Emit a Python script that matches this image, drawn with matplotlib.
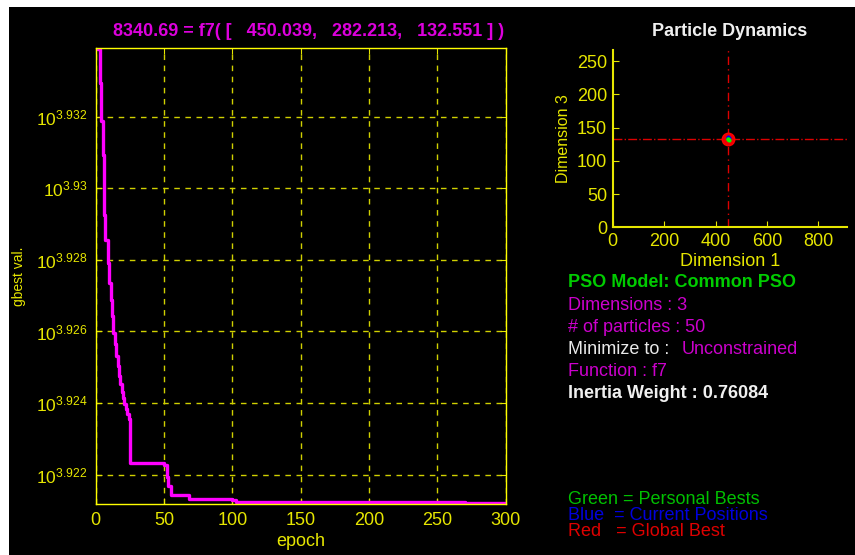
import numpy as np
import matplotlib
matplotlib.use("Agg")
import matplotlib.pyplot as plt
from matplotlib.patches import Rectangle
from matplotlib.ticker import FixedLocator, FixedFormatter

plt.rcParams['font.family'] = ['Liberation Sans', 'DejaVu Sans']
plt.rcParams['mathtext.fontset'] = 'custom'
plt.rcParams['mathtext.rm'] = 'Liberation Sans'
plt.rcParams['mathtext.it'] = 'Liberation Sans:italic'
plt.rcParams['mathtext.bf'] = 'Liberation Sans:bold'

# gbest history (log10 of value) at the epochs where it changes
drop_epochs = [0, 3, 4, 5, 6, 7, 9, 10, 11, 12, 13, 14, 15, 16, 17, 18, 19, 20, 21, 22, 23, 24, 25,
               50, 52, 53, 55, 68, 100, 103, 270, 300]
gbest_log = [3.93390, 3.93295, 3.93189, 3.93092, 3.92925, 3.92856, 3.92792, 3.92736, 3.92687,
             3.92642, 3.92597, 3.92564, 3.92531, 3.92503, 3.92476, 3.92453, 3.92431, 3.92414,
             3.92397, 3.92383, 3.92369, 3.92356, 3.92233, 3.92228, 3.92194, 3.92169, 3.92143,
             3.92133, 3.92129, 3.92124, 3.92120, 3.92120]

ytick_exp = [3.922, 3.924, 3.926, 3.928, 3.93, 3.932]
ytick_txt = ['3.922', '3.924', '3.926', '3.928', '3.93', '3.932']
xticks_main = [0, 50, 100, 150, 200, 250, 300]

# particle swarm snapshot (dimension 1 vs dimension 3)
gbest_pos = [450.039, 282.213, 132.551]
gbest_val = 8340.69
pbest_d1 = [450.5, 449.6, 450.2]
pbest_d3 = [132.2, 133.0, 132.6]
cur_d1 = [449.8, 450.6, 450.1]
cur_d3 = [135.0, 134.2, 135.6]

info_lines = [("PSO Model: Common PSO", "#00cc00", "bold"),
              ("Dimensions : 3", "#cc00cc", "normal"),
              ("# of particles : 50", "#cc00cc", "normal"),
              ("Minimize to : ", "#e8e8e8", "normal"),
              ("Function : f7", "#cc00cc", "normal"),
              ("Inertia Weight : 0.76084", "#f0f0f0", "bold")]
legend_lines = [("Green = Personal Bests", "#00c000"),
                ("Blue  = Current Positions", "#0000dd"),
                ("Red   = Global Best", "#dd0000")]

W, H = 855, 555
yel = "#e6e600"
fig = plt.figure(figsize=(W / 100, H / 100), dpi=100, facecolor="white")
fig.patches.append(Rectangle((9 / W, 0), 1 - 9 / W, 1 - 7 / H, transform=fig.transFigure,
                             facecolor="black", edgecolor="none", zorder=-10))

# --- convergence plot ---
ax = fig.add_axes([95.7 / W, 1 - 504 / H, 410 / W, 456 / H])
ax.set_facecolor("black")
yvals = [10 ** v for v in gbest_log]
ax.plot(drop_epochs, yvals, color="#ff00ff", lw=2.4, drawstyle="steps-post")
ax.set_yscale("log")
ax.set_xlim(0, 300)
ax.set_ylim(10 ** 3.92118, 10 ** 3.93392)
ax.yaxis.set_major_locator(FixedLocator([10 ** e for e in ytick_exp]))
ax.yaxis.set_major_formatter(FixedFormatter(['$10^{%s}$' % t for t in ytick_txt]))
ax.yaxis.set_minor_locator(FixedLocator([]))
ax.set_xticks(xticks_main)
ax.grid(True, color="#d0d000", ls=(0, (4, 4)), lw=1.0)
for s in ax.spines.values():
    s.set_color("#ffff00")
    s.set_linewidth(1.0)
ax.tick_params(colors=yel, labelsize=13, direction="in", length=4, top=True, right=True, pad=6)
ax.tick_params(axis="y", labelsize=12.5)
ax.set_xlabel("epoch", color=yel, fontsize=13, labelpad=3)
ax.set_ylabel("gbest val.", color=yel, fontsize=10, labelpad=7)
ax.set_title("%.2f = f7( [   %.3f,   %.3f,   %.3f ] )" % (gbest_val, *gbest_pos),
             color="#dd00dd", fontsize=13, fontweight="bold", pad=9, x=0.52)

# --- particle dynamics ---
ax2 = fig.add_axes([612.7 / W, 1 - 227.3 / H, 234 / W, 177.3 / H])
ax2.set_facecolor("black")
ax2.set_xlim(0, 910)
ax2.set_ylim(0, 267)
ax2.axhline(gbest_pos[2], color="#dd0000", ls="-.", lw=1.0)
ax2.axvline(gbest_pos[0], color="#dd0000", ls=(0, (6, 3, 1, 3)), lw=1.0)
ax2.plot([gbest_pos[0]], [gbest_pos[2]], "o", color="#ee0000", ms=9, mec="#ff0000")
ax2.plot(cur_d1, cur_d3, "o", color="#0000ff", ms=3, mec="none")
ax2.plot(pbest_d1, pbest_d3, "o", color="#00ff00", ms=3, mec="none")
ax2.set_xticks([0, 200, 400, 600, 800])
ax2.set_yticks([0, 50, 100, 150, 200, 250])
for k in ["top", "right"]:
    ax2.spines[k].set_visible(False)
for k in ["left", "bottom"]:
    ax2.spines[k].set_color("#e6e600")
    ax2.spines[k].set_linewidth(1.5)
ax2.tick_params(colors=yel, labelsize=13, direction="in", length=4, pad=4)
ax2.set_xlabel("Dimension 1", color=yel, fontsize=13, labelpad=2)
ax2.set_ylabel("Dimension 3", color=yel, fontsize=11.5, labelpad=4)
ax2.set_title("Particle Dynamics", color="#f0f0f0", fontsize=13, fontweight="bold", pad=10)

# --- info text ---
x0 = 568.3 / W
ys = [282.7, 305, 327, 349, 371.7, 393.3]
for (txt, col, wt), yp in zip(info_lines, ys):
    fig.text(x0, 1 - yp / H, txt, color=col, fontsize=13, fontweight=wt, va="center", ha="left")
fig.text(681.7 / W, 1 - 349 / H, "Unconstrained", color="#cc00cc", fontsize=13, va="center", ha="left")
for (txt, col), yp in zip(legend_lines, [499, 515.3, 531.7]):
    fig.text(x0, 1 - yp / H, txt, color=col, fontsize=13, va="center", ha="left")

fig.savefig("out.png", dpi=100, facecolor=fig.get_facecolor())
